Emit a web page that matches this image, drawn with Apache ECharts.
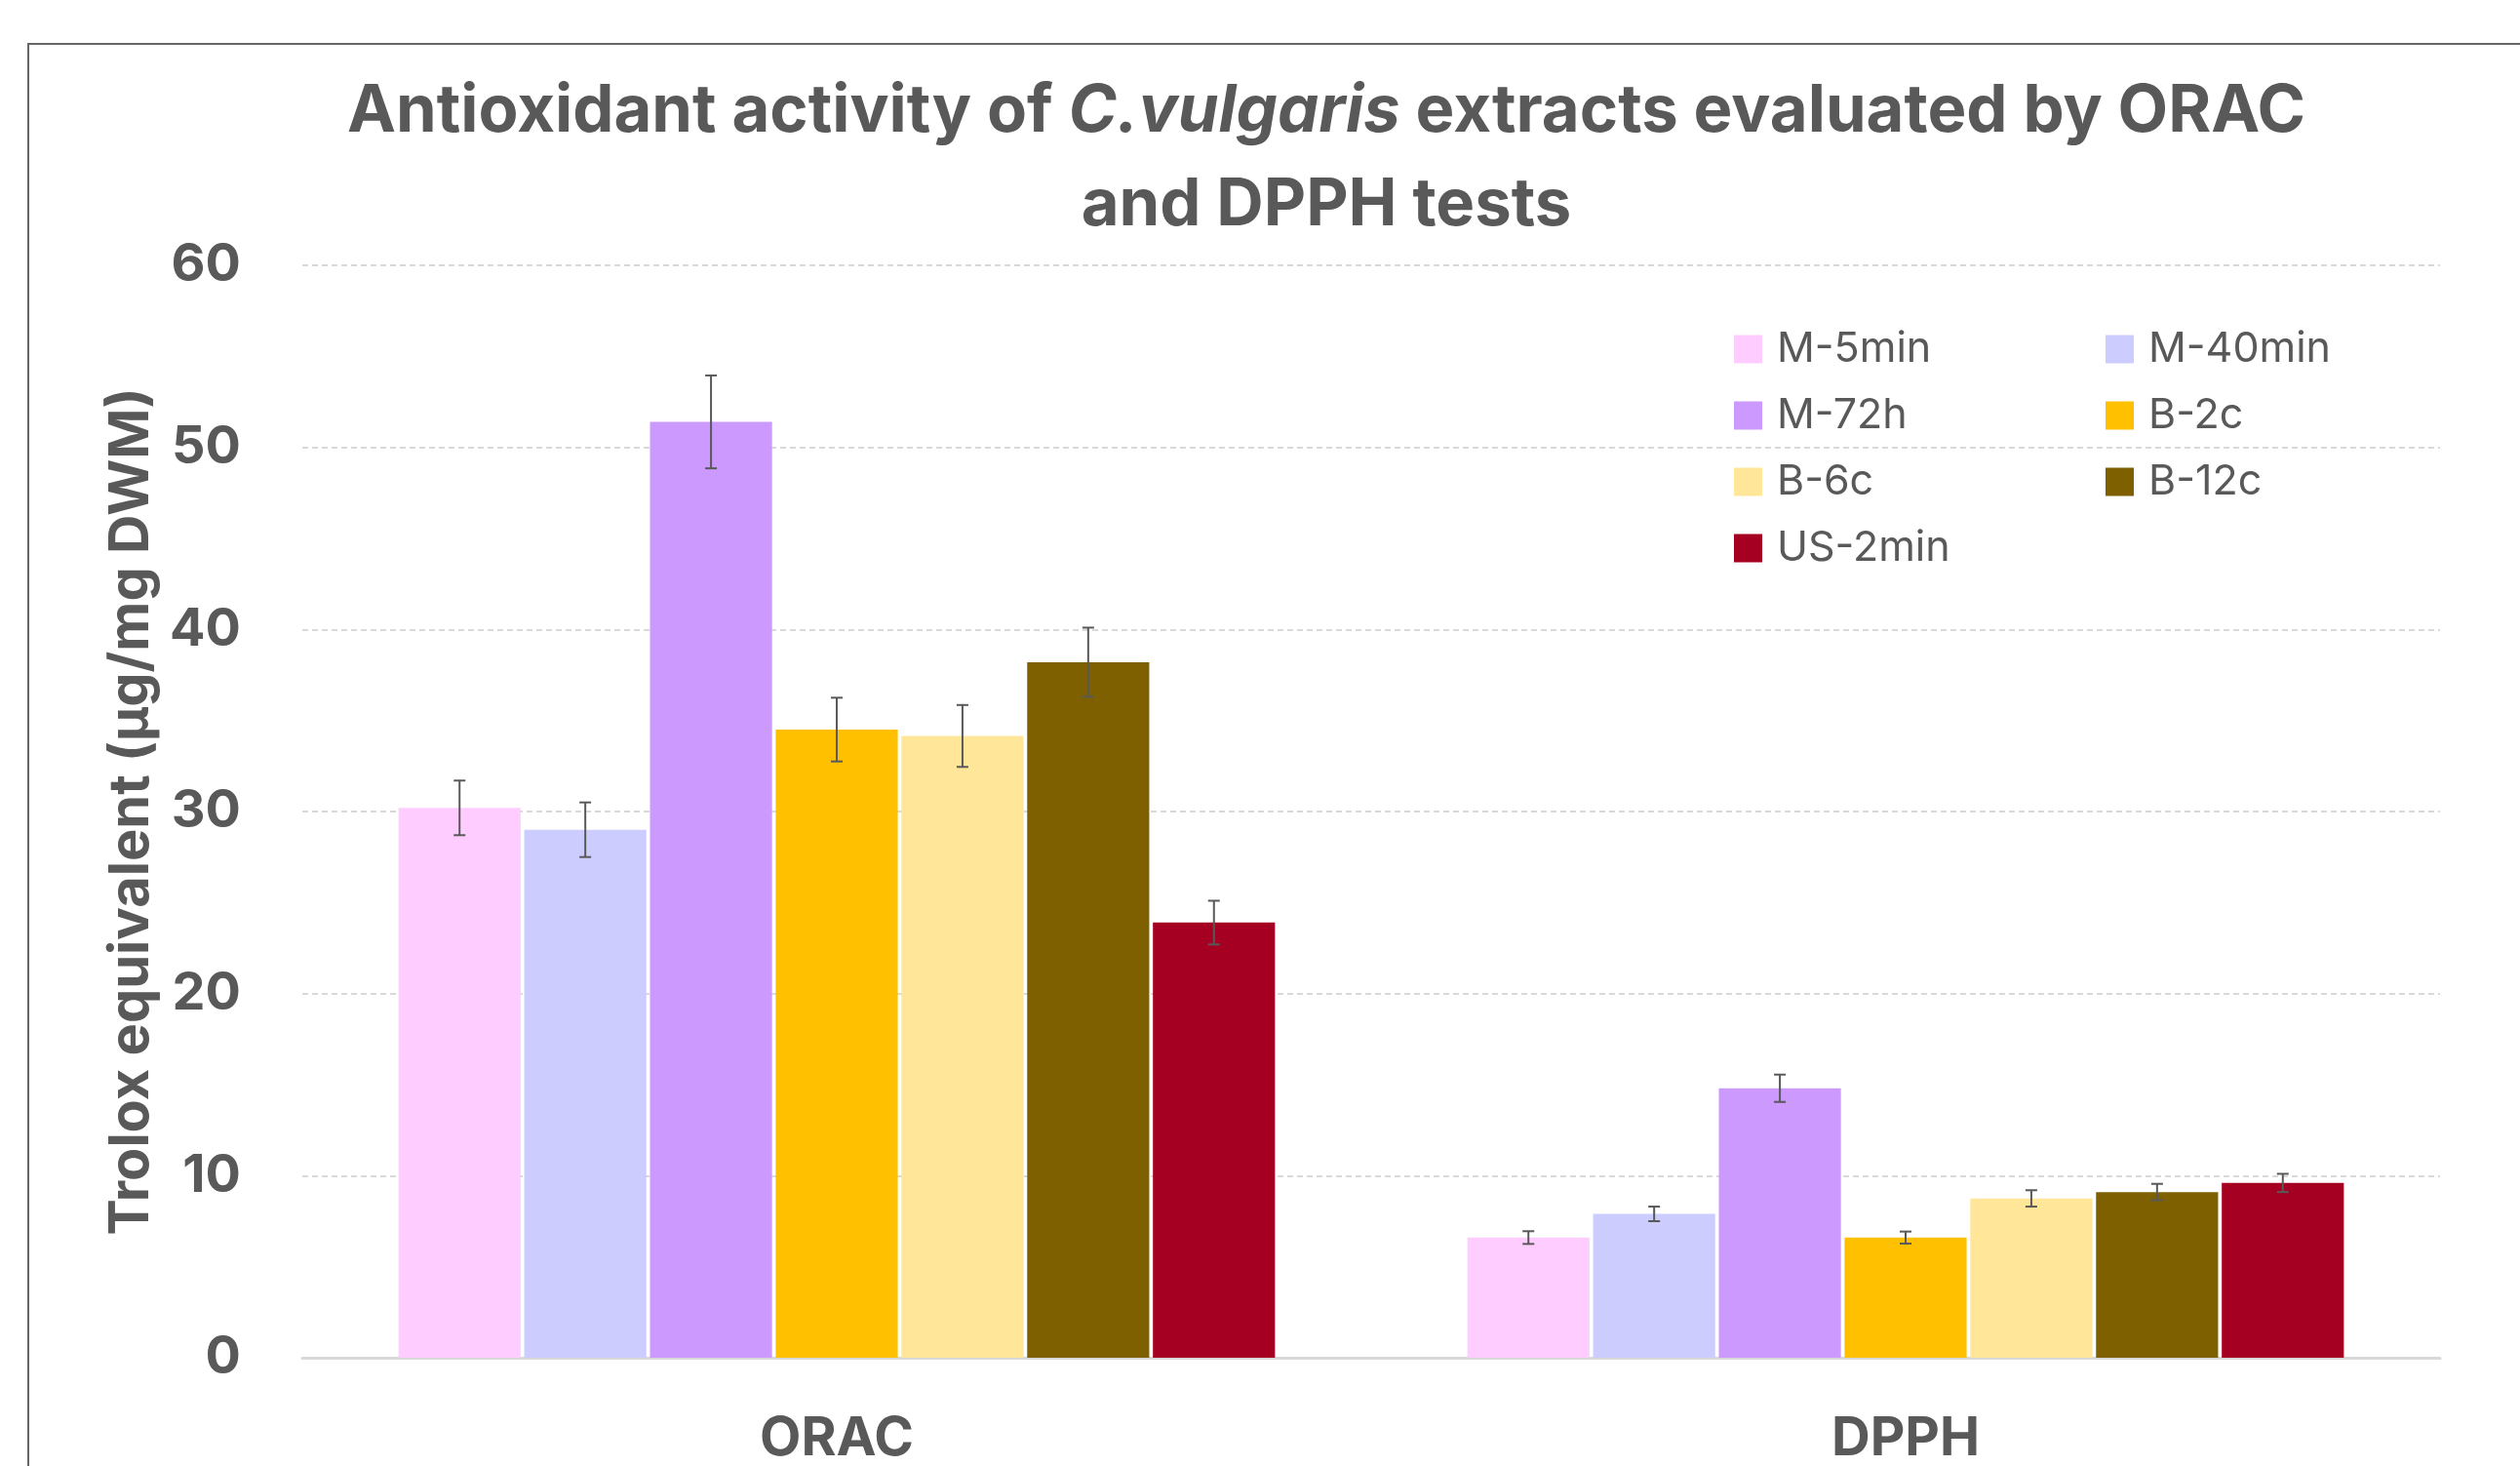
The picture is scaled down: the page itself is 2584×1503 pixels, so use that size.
<!DOCTYPE html>
<html>
<head>
<meta charset="utf-8">
<script src="https://cdn.jsdelivr.net/npm/echarts@6/dist/echarts.min.js"></script>
<style>
  html, body { margin: 0; padding: 0; background: #fff; }
  #chart { width: 2584px; height: 1503px; }
</style>
</head>
<body>
<div id="chart"></div>
<script>
// categories and series
var categories = ['ORAC', 'DPPH'];
var seriesNames = ['M-5min', 'M-40min', 'M-72h', 'B-2c', 'B-6c', 'B-12c', 'US-2min'];
var seriesColors = ['#FFCCFF', '#CCCCFF', '#CC99FF', '#FFC000', '#FFE699', '#7F6000', '#A50021'];

// mean values, one array per extract: [ORAC, DPPH]
var m5min = [30.2, 6.6];
var m40min = [29.0, 7.9];
var m72h = [51.4, 14.8];
var b2c = [34.5, 6.6];
var b6c = [34.15, 8.75];
var b12c = [38.2, 9.1];
var us2min = [23.9, 9.6];

// standard deviations (error bars)
var m5minErr = [1.5, 0.35];
var m40minErr = [1.5, 0.4];
var m72hErr = [2.55, 0.75];
var b2cErr = [1.75, 0.33];
var b6cErr = [1.7, 0.45];
var b12cErr = [1.9, 0.45];
var us2minErr = [1.2, 0.5];

var yTicks = { min: 0, max: 60, interval: 10 };

var means = [m5min, m40min, m72h, b2c, b6c, b12c, us2min];
var errs = [m5minErr, m40minErr, m72hErr, b2cErr, b6cErr, b12cErr, us2minErr];

var FONT = 'Inter, "Open Sans", sans-serif';
var GREY = '#595959';
var CAT_GAP = 0.18, BAR_GAP = 0.03;

var chart = echarts.init(document.getElementById('chart'));

var errData = [];
for (var s = 0; s < means.length; s++) {
    for (var c = 0; c < categories.length; c++) {
        errData.push([c, means[s][c], errs[s][c], s]);
    }
}

var renderError = function(params, api) {
    var cat = api.value(0), v = api.value(1), e = api.value(2), s = api.value(3);
    var n = seriesNames.length;
    var band = api.size([1, 0])[0];
    var bw = (band * (1 - CAT_GAP)) / (n + (n - 1) * BAR_GAP);
    var total = bw * n + bw * BAR_GAP * (n - 1);
    var offset = -total / 2 + s * bw * (1 + BAR_GAP) + bw / 2;
    var top = api.coord([cat, v + e]);
    var bot = api.coord([cat, v - e]);
    var x = top[0] + offset;
    var cap = 6;
    var st = { stroke: GREY, lineWidth: 2 };
    return {
        type: 'group',
        children: [
            { type: 'line', shape: { x1: x, y1: top[1], x2: x, y2: bot[1] }, style: st },
            { type: 'line', shape: { x1: x - cap, y1: top[1], x2: x + cap, y2: top[1] }, style: st },
            { type: 'line', shape: { x1: x - cap, y1: bot[1], x2: x + cap, y2: bot[1] }, style: st }
        ]
    };
};

var series = seriesNames.map(function(name, i) {
    return {
        name: name,
        type: 'bar',
        data: means[i],
        barCategoryGap: '18%',
        barGap: '3%',
        itemStyle: { color: seriesColors[i] }
    };
});
series.push({
    name: 'error',
    type: 'custom',
    renderItem: renderError,
    data: errData,
    z: 10,
    silent: true
});

var option = {
    animation: false,
    backgroundColor: '#fff',
    title: {
        text: '{a|Antioxidant activity of }{i|C.vulgaris}{a| extracts evaluated by ORAC}\n{a|and DPPH tests}',
        left: 1360,
        top: 67,
        padding: 0,
        textAlign: 'center',
        textStyle: {
            lineHeight: 96,
            rich: {
                a: { fontFamily: FONT, fontSize: 67, fontWeight: 'bold', color: GREY, lineHeight: 96 },
                i: { fontFamily: FONT, fontSize: 67, fontWeight: 'bold', fontStyle: 'italic', color: GREY, lineHeight: 96 }
            }
        }
    },
    graphic: [{
        type: 'rect',
        shape: { x: 29, y: 45, width: 2620, height: 1520 },
        style: { fill: 'none', stroke: '#666', lineWidth: 2 },
        silent: true
    }],
    legend: {
        data: seriesNames,
        left: 1778,
        top: 334,
        width: 800,
        padding: 0,
        itemWidth: 29,
        itemHeight: 29,
        itemGap: 20,
        icon: 'rect',
        textStyle: {
            fontFamily: FONT,
            fontSize: 43,
            color: GREY,
            lineHeight: 48,
            width: 317,
            padding: [0, 0, 0, 10]
        }
    },
    grid: { left: 310, right: 82, top: 272, bottom: 104 },
    xAxis: {
        type: 'category',
        data: categories,
        axisLine: { lineStyle: { color: '#d9d9d9', width: 3 } },
        axisTick: { show: false },
        axisLabel: { fontFamily: FONT, fontSize: 55, fontWeight: 'bold', color: GREY, margin: 56 }
    },
    yAxis: {
        type: 'value',
        min: yTicks.min,
        max: yTicks.max,
        interval: yTicks.interval,
        name: 'Trolox equivalent (μg/mg DWM)',
        nameLocation: 'middle',
        nameGap: 134,
        nameTextStyle: { fontFamily: FONT, fontSize: 56, fontWeight: 'bold', color: GREY },
        axisLine: { show: false },
        axisTick: { show: false },
        axisLabel: { fontFamily: FONT, fontSize: 54, fontWeight: 'bold', color: GREY, margin: 63 },
        splitLine: { lineStyle: { color: '#d9d9d9', width: 2, type: [6, 4] } }
    },
    series: series
};

chart.setOption(option);
</script>
</body>
</html>
